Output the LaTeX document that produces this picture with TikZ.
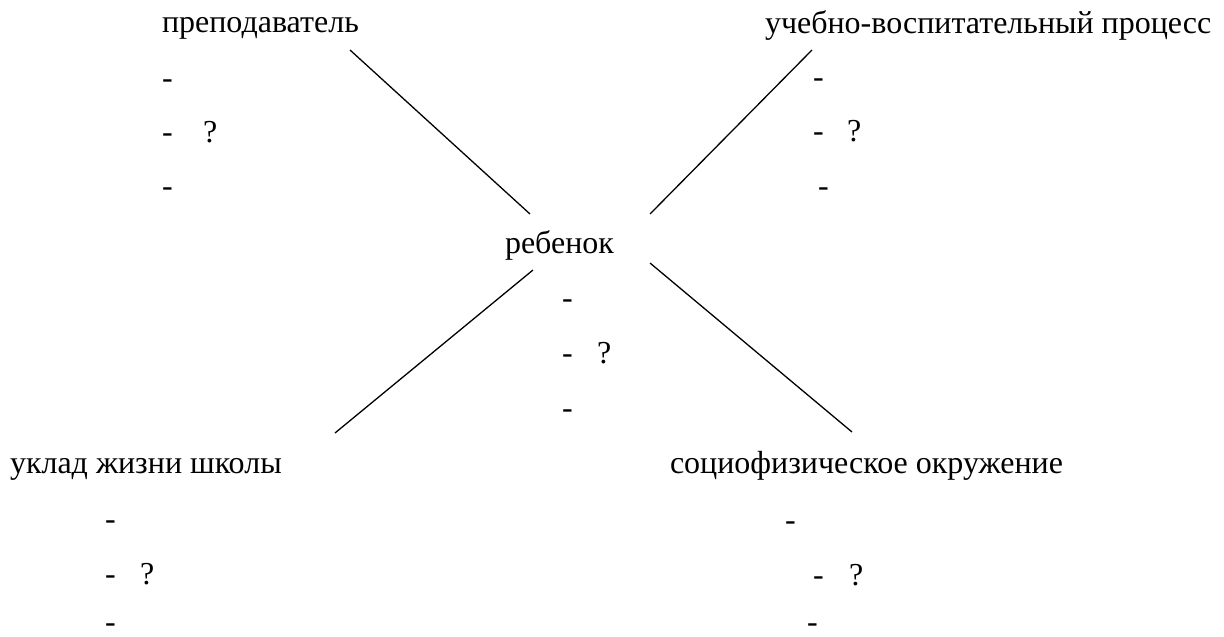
\documentclass[tikz,border=0pt]{standalone}
\usepackage{fontspec}
\setmainfont{Liberation Serif}
\newfontfamily\refserif{Liberation Serif}
\begin{document}
\begin{tikzpicture}[x=1pt,y=-1pt,
  lbl/.style={anchor=base west,inner sep=0pt,outer sep=0pt,font=\refserif\fontsize{32}{38}\selectfont},
  conn/.style={line width=1.3pt,black}]
\useasboundingbox (0,0) rectangle (1224,637);
% top-left
\node[lbl] (t1) at (162,32) {преподаватель};
\node[lbl] (t1a) at (162,88) {-};
\node[lbl] (t1b) at (162,142) {-};
\node[lbl] (t1q) at (203,142) {?};
\node[lbl] (t1c) at (162,196) {-};
% top-right
\node[lbl] (t2) at (765,33) {учебно-воспитательный процесс};
\node[lbl] (t2a) at (813,87) {-};
\node[lbl] (t2b) at (813,141) {-};
\node[lbl] (t2q) at (847,141) {?};
\node[lbl] (t2c) at (818,196) {-};
% center
\node[lbl] (c) at (505,253) {ребенок};
\node[lbl] (ca) at (562,308) {-};
\node[lbl] (cb) at (562,363) {-};
\node[lbl] (cq) at (597,363) {?};
\node[lbl] (cc) at (562,418) {-};
% bottom-left
\node[lbl] (b1) at (10,473) {уклад жизни школы};
\node[lbl] (b1a) at (105,529) {-};
\node[lbl] (b1b) at (105,584) {-};
\node[lbl] (b1q) at (140,584) {?};
\node[lbl] (b1c) at (105,632) {-};
% bottom-right
\node[lbl] (b2) at (670,473) {социофизическое окружение};
\node[lbl] (b2a) at (785,530) {-};
\node[lbl] (b2b) at (813,585) {-};
\node[lbl] (b2q) at (849,585) {?};
\node[lbl] (b2c) at (807,632) {-};
% connectors
\coordinate (p1) at (350,50);
\coordinate (p2) at (530,214);
\coordinate (p3) at (812,50);
\coordinate (p4) at (650,214);
\coordinate (p5) at (533,270);
\coordinate (p6) at (335,433);
\coordinate (p7) at (650,263);
\coordinate (p8) at (852,432);
\draw[conn] (p1) -- (p2);
\draw[conn] (p3) -- (p4);
\draw[conn] (p5) -- (p6);
\draw[conn] (p7) -- (p8);
\end{tikzpicture}
\end{document}
